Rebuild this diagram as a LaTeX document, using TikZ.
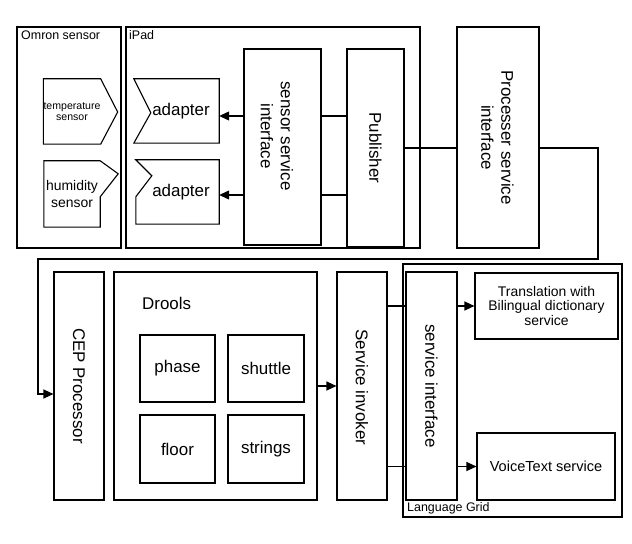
\documentclass[tikz,border=0pt]{standalone}
\usepackage{fontspec}
\setmainfont{Liberation Sans}
\usetikzlibrary{arrows.meta,calc}
\tikzset{
  box/.style={draw, line width=1.1bp, inner sep=0pt},
  plain/.style={inner sep=0pt},
  conn/.style={line width=1.1bp},
  arr/.style={conn, -{Triangle[length=10bp,width=9bp]}},
  big/.style={font=\fontsize{17}{20}\selectfont},
  mid/.style={font=\fontsize{14}{15}\selectfont},
  small/.style={font=\fontsize{12.5}{15}\selectfont},
  vtext/.style={big, rotate=-90, align=center, inner sep=0pt},
}
\begin{document}
\begin{tikzpicture}[x=1bp,y=-1bp]
\useasboundingbox (0,0) rectangle (632,544);

% containers
\node[box, minimum width=104bp, minimum height=221bp] (omron) at (69,137.5) {};
\node[small, anchor=base west, inner sep=0pt] (omronl) at (21,40) {Omron sensor};
\node[box, minimum width=294bp, minimum height=221bp] (ipad) at (273,137.5) {};
\node[small, anchor=base west, inner sep=0pt] (ipadl) at (129,40) {iPad};

% sensors
\node[plain, minimum width=56bp, minimum height=65bp, align=center,
      font=\fontsize{10.6}{11.5}\selectfont] (temp) at (72,111.5) {temperature\\sensor};
\draw[conn] (temp.north west) -- (temp.north east) -- ($(temp.east)+(17,0.5)$)
  -- (temp.south east) -- (temp.south west) -- cycle;
\node[plain, minimum width=56bp, minimum height=66bp, align=center,
      font=\fontsize{14}{17}\selectfont] (hum) at (72,194) {humidity\\sensor};
\draw[conn] (hum.north west) -- (hum.north east) -- ($(hum.north east)+(18,13)$)
  -- ($(hum.north east)+(0,36)$) -- (hum.south east) -- (hum.south west) -- cycle;

% adapters
\node[plain, big, minimum width=85bp, minimum height=64bp] (ad1) at (176.5,111) {\hspace*{9bp}adapter};
\draw[conn] (ad1.north west) -- (ad1.north east) -- (ad1.south east) -- (ad1.south west)
  -- ($(ad1.north west)+(17,34)$) -- cycle;
\node[plain, big, minimum width=83bp, minimum height=64bp] (ad2) at (177.5,192) {\hspace*{7bp}adapter};
\draw[conn] (ad2.north west) -- (ad2.north east) -- (ad2.south east) -- (ad2.south west)
  -- ($(ad2.north west)+(0,37)$) -- ($(ad2.north west)+(16,16)$) -- cycle;

% iPad services
\node[box, minimum width=77bp, minimum height=196bp] (ssi) at (282.5,147) {};
\node[vtext] (ssit) at (277,136) {sensor service\\interface};
\node[box, minimum width=57bp, minimum height=198bp] (pub) at (375.5,148) {};
\node[vtext] (pubt) at (pub.center) {Publisher};
\node[box, minimum width=82bp, minimum height=221bp] (psi) at (498,137.5) {};
\node[vtext] (psit) at (497.5,137.5) {Processer service\\interface};

\coordinate (a1) at ([yshift=-5bp]ad1.east);
\coordinate (a2) at ([yshift=-3bp]ad2.east);
\draw[arr] (ssi.west |- a1) -- (a1);
\draw[arr] (ssi.west |- a2) -- (a2);
\draw[conn] (ssi.east |- a1) -- (pub.west |- a1);
\draw[conn] (ssi.east |- a2) -- (pub.west |- a2);
\draw[conn] (pub.east) -- (pub.east -| psi.west);

% bottom row
\node[box, minimum width=50bp, minimum height=228bp] (cep) at (79,386) {};
\node[vtext] (cept) at (cep.center) {CEP Processor};
\node[box, minimum width=203bp, minimum height=228bp] (drools) at (215.5,386) {};
\node[big, anchor=base west, inner sep=0pt] (droolsl) at (142,309) {Drools};
\node[box, big, minimum width=75bp, minimum height=67bp] (phase) at (177.5,368.5) {phase};
\node[box, big, minimum width=76bp, minimum height=67bp] (shuttle) at (266,368.5) {shuttle};
\node[box, big, minimum width=75bp, minimum height=68bp] (floor) at (177.5,449) {floor};
\node[box, big, minimum width=76bp, minimum height=68bp] (strings) at (266,449) {strings};

\node[box, minimum width=50bp, minimum height=228bp] (inv) at (362,386) {};
\node[vtext] (invt) at (362,387.5) {Service invoker};

\node[box, minimum width=219bp, minimum height=253bp] (lg) at (512.5,390.5) {};
\node[small, anchor=base west, inner sep=0pt] (lgl) at (407,511) {Language Grid};
\node[box, minimum width=51bp, minimum height=228bp] (si) at (431.5,386) {};
\node[vtext] (sit) at (si.center) {service interface};
\node[box, mid, align=center, minimum width=143bp, minimum height=66bp] (tr) at (546.5,306)
  {Translation with\\Bilingual dictionary\\service};
\node[box, font=\fontsize{14.6}{16}\selectfont, minimum width=138bp, minimum height=67bp] (vt) at (546,466.5) {VoiceText service};

% connectors
\coordinate (r1) at (598,259);
\coordinate (l1) at (38,259);
\coordinate (cepin) at ([yshift=-8bp]cep.west);
\draw[arr] (psi.east |- pub.east) -| (r1) -- (l1) |- (cepin);
\draw[arr] (drools.east) -- (inv.west);
\draw[conn] (inv.east |- tr.west) -- (si.west |- tr.west);
\draw[conn] (inv.east |- vt.west) -- (si.west |- vt.west);
\draw[arr] (si.east |- tr.west) -- (tr.west);
\draw[arr] (si.east |- vt.west) -- (vt.west);
\end{tikzpicture}
\end{document}
